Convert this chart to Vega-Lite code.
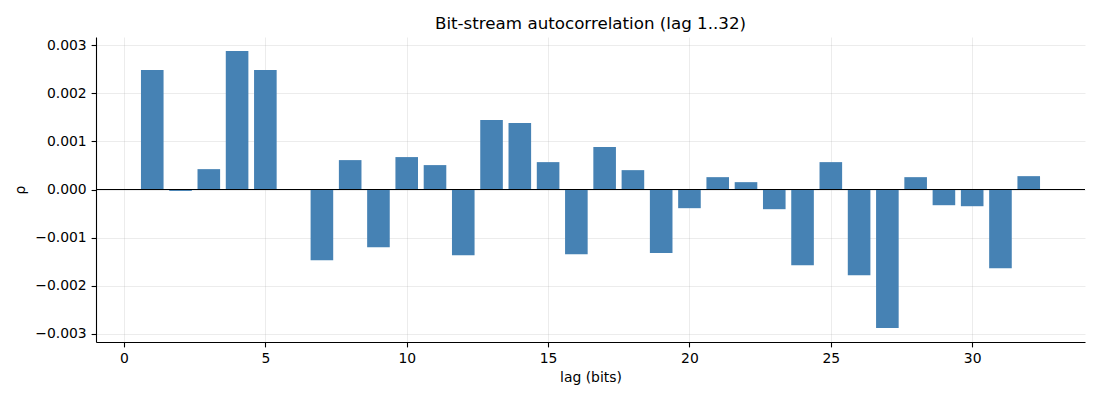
{
  "$schema": "https://vega.github.io/schema/vega-lite/v6.json",
  "width": 989,
  "height": 305,
  "autosize": "none",
  "padding": {"left": 96, "top": 37, "right": 15, "bottom": 58},
  "background": "white",
  "title": {
    "text": "Bit-stream autocorrelation (lag 1..32)",
    "font": "DejaVu Sans",
    "fontSize": 16.7,
    "fontWeight": "normal",
    "color": "black",
    "offset": 4
  },
  "config": {
    "view": {"stroke": null},
    "axis": {
      "labelFont": "DejaVu Sans",
      "labelFontSize": 13.9,
      "labelColor": "black",
      "titleFont": "DejaVu Sans",
      "titleFontSize": 13.9,
      "titleFontWeight": "normal",
      "titleColor": "black",
      "domainColor": "black",
      "domainWidth": 1.1,
      "tickColor": "black",
      "tickWidth": 1.1,
      "tickSize": 4.9,
      "labelPadding": 4.9,
      "gridColor": "#b0b0b0",
      "gridOpacity": 0.3,
      "gridWidth": 0.8,
      "zindex": 1
    }
  },
  "data": {
    "values": [
      {"lag": 1, "rho": 0.00249},
      {"lag": 2, "rho": -0.00003},
      {"lag": 3, "rho": 0.000424},
      {"lag": 4, "rho": 0.002886},
      {"lag": 5, "rho": 0.00249},
      {"lag": 6, "rho": 0.0},
      {"lag": 7, "rho": -0.001474},
      {"lag": 8, "rho": 0.000612},
      {"lag": 9, "rho": -0.001203},
      {"lag": 10, "rho": 0.000675},
      {"lag": 11, "rho": 0.000508},
      {"lag": 12, "rho": -0.00137},
      {"lag": 13, "rho": 0.001446},
      {"lag": 14, "rho": 0.001384},
      {"lag": 15, "rho": 0.00057},
      {"lag": 16, "rho": -0.001349},
      {"lag": 17, "rho": 0.000883},
      {"lag": 18, "rho": 0.000403},
      {"lag": 19, "rho": -0.001321},
      {"lag": 20, "rho": -0.000389},
      {"lag": 21, "rho": 0.000257},
      {"lag": 22, "rho": 0.000153},
      {"lag": 23, "rho": -0.00041},
      {"lag": 24, "rho": -0.001579},
      {"lag": 25, "rho": 0.00057},
      {"lag": 26, "rho": -0.001787},
      {"lag": 27, "rho": -0.002886},
      {"lag": 28, "rho": 0.000257},
      {"lag": 29, "rho": -0.000327},
      {"lag": 30, "rho": -0.000348},
      {"lag": 31, "rho": -0.001641},
      {"lag": 32, "rho": 0.000278}
    ]
  },
  "layer": [
    {
      "mark": {"type": "bar", "width": 22.6, "color": "#4682b4"},
      "encoding": {
        "x": {
          "field": "lag",
          "type": "quantitative",
          "scale": {"domain": [-0.99, 33.99], "nice": false, "zero": false, "padding": 0},
          "axis": {"values": [0, 5, 10, 15, 20, 25, 30], "format": "d", "title": "lag (bits)", "titlePadding": 5}
        },
        "y": {
          "field": "rho",
          "type": "quantitative",
          "scale": {"domain": [-0.003175, 0.003175], "nice": false, "padding": 0},
          "axis": {
            "values": [-0.003, -0.002, -0.001, 0, 0.001, 0.002, 0.003],
            "format": ".3f",
            "title": "ρ",
            "titlePadding": 7
          }
        }
      }
    },
    {
      "mark": {"type": "rule", "color": "black", "strokeWidth": 0.9},
      "encoding": {"y": {"datum": 0}}
    }
  ]
}
